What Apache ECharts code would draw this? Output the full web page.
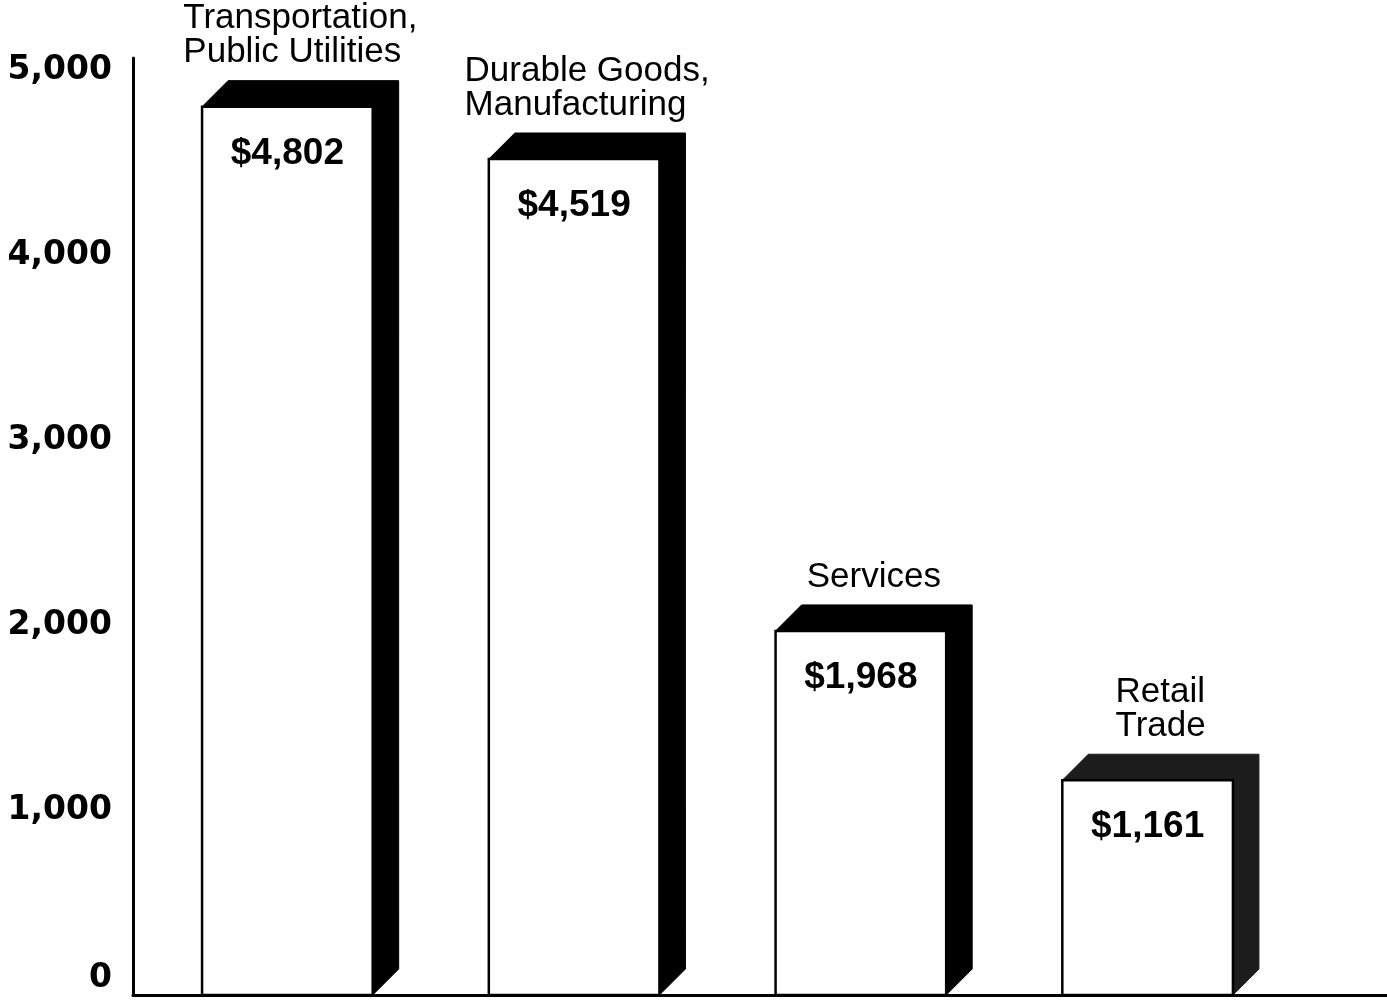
<!DOCTYPE html>
<html>
<head>
<meta charset="utf-8">
<script src="https://cdn.jsdelivr.net/npm/echarts@6/dist/echarts.min.js"></script>
<style>
html,body{margin:0;padding:0;background:#fff;}
#chart{width:1387px;height:1002px;}
</style>
</head>
<body>
<div id="chart"></div>
<script>
// ---- data ----
const categories = ['Transportation,\nPublic Utilities', 'Durable Goods,\nManufacturing', 'Services', 'Retail\nTrade'];
const values = [4802, 4519, 1968, 1161];
const yMin = 0;
const yMax = 5065;
const yStep = 1000;

// ---- styles ----
const shadowColors = ['#000', '#000', '#000', '#1c1c1c'];
const catFont = '35px "Liberation Sans", Arial, sans-serif';
const measureCtx = document.createElement('canvas').getContext('2d');
measureCtx.font = catFont;
function blockWidth(txt) {
  return Math.max.apply(null, txt.split('\n').map(l => measureCtx.measureText(l).width));
}
function money(v) { return '$' + v.toLocaleString('en-US'); }

const chart = echarts.init(document.getElementById('chart'), null, {renderer: 'canvas'});

const option = {
  backgroundColor: '#fff',
  animation: false,
  grid: [
    {left: 144, right: 96, top: 58, bottom: 7, containLabel: false},
    {left: 133, right: 0, top: 58, bottom: 7, containLabel: false}
  ],
  xAxis: [
    {gridIndex: 0, type: 'category', data: categories, axisLine: {show: false}, axisTick: {show: false}, axisLabel: {show: false}, splitLine: {show: false}},
    {gridIndex: 1, type: 'value', min: 0, max: 1, axisLine: {show: true, onZero: false, lineStyle: {color: '#000', width: 3}}, axisTick: {show: false}, axisLabel: {show: false}, splitLine: {show: false}}
  ],
  yAxis: [
    {
      gridIndex: 0, type: 'value', min: yMin, max: yMax, interval: yStep, offset: 11,
      axisLine: {show: true, lineStyle: {color: '#000', width: 3}},
      axisTick: {show: false},
      splitLine: {show: false},
      axisLabel: {
        margin: 21,
        showMaxLabel: false,
        color: '#000',
        fontFamily: '"DejaVu Sans", sans-serif',
        fontWeight: 'bold',
        fontSize: 33,
        formatter: function (v) {
          if (v % yStep !== 0) return '';
          return v === 0 ? '{z|0}' : v.toLocaleString('en-US');
        },
        rich: {
          z: {fontFamily: '"DejaVu Sans", sans-serif', fontWeight: 'bold', fontSize: 33, color: '#000', padding: [0, 0, 34, 0]}
        }
      }
    },
    {gridIndex: 1, type: 'value', min: 0, max: 1, show: false}
  ],
  series: [{
    type: 'custom',
    xAxisIndex: 0,
    yAxisIndex: 0,
    clip: false,
    data: values.map((v, i) => [i, v]),
    renderItem: function (params, api) {
      const i = api.value(0);
      const topPt = api.coord([i, api.value(1)]);
      const basePt = api.coord([i, 0]);
      const w = api.size([1, 0])[0] * 0.595;
      const d = 26;
      const left = topPt[0] - w / 2, right = topPt[0] + w / 2;
      const top = topPt[1], bottom = basePt[1];
      const label = categories[i];
      const bw = blockWidth(label);
      const groupCenter = topPt[0] + d / 2;
      return {
        type: 'group',
        children: [
          {
            type: 'polygon',
            shape: {points: [[left, top], [left + d, top - d], [right + d, top - d], [right + d, bottom - d], [right, bottom], [right, top]]},
            style: {fill: shadowColors[i], stroke: shadowColors[i], lineWidth: 1}
          },
          {
            type: 'rect',
            shape: {x: left, y: top, width: w, height: bottom - top},
            style: {fill: '#fff', stroke: '#000', lineWidth: 2.5}
          },
          {
            type: 'text',
            style: {
              x: topPt[0], y: top + 47, text: money(api.value(1)),
              align: 'center', verticalAlign: 'middle',
              font: 'bold 37px "Liberation Sans", Arial, sans-serif', fill: '#000'
            }
          },
          {
            type: 'text',
            style: {
              x: groupCenter - bw / 2, y: top - d - 11, text: label,
              align: 'left', verticalAlign: 'bottom',
              font: catFont, lineHeight: 34, fill: '#000'
            }
          }
        ]
      };
    }
  }]
};
chart.setOption(option);
</script>
</body>
</html>
